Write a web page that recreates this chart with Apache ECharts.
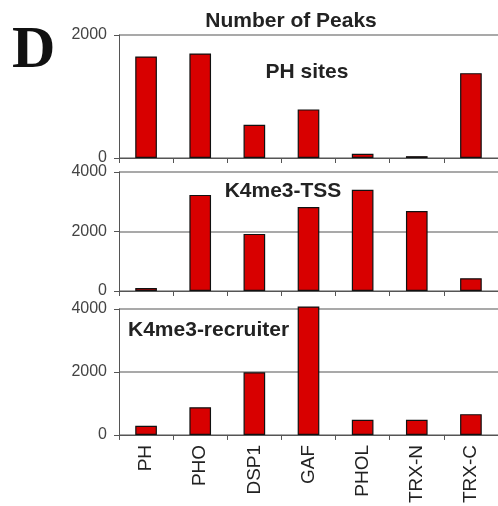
<!DOCTYPE html>
<html>
<head>
<meta charset="utf-8">
<script src="https://cdn.jsdelivr.net/npm/echarts@6/dist/echarts.min.js"></script>
<style>
html,body{margin:0;padding:0;background:#fff;}
#chart{width:498px;height:506px;}
</style>
</head>
<body>
<div id="chart"></div>
<script>
const categories = ['PH', 'PHO', 'DSP1', 'GAF', 'PHOL', 'TRX-N', 'TRX-C'];
const phSites = [1650, 1700, 540, 790, 70, 30, 1380];
const k4me3TSS = [100, 3230, 1920, 2820, 3400, 2690, 430];
const k4me3Recruiter = [290, 880, 1990, 4080, 480, 480, 660];
const panelNames = ['PH sites', 'K4me3-TSS', 'K4me3-recruiter'];
const panelMax = [2000, 4000, 4000];
const yTickInterval = 2000;
const titleText = 'Number of Peaks';
const panelLetter = 'D';

const chart = echarts.init(document.getElementById('chart'), null, {renderer: 'canvas'});
const font = 'Liberation Sans, Arial, sans-serif';
const gridColor = '#8c8c8c';
const grids = [
  {left: 119, top: 35, width: 381, height: 123},
  {left: 119, top: 172, width: 381, height: 119},
  {left: 119, top: 309, width: 381, height: 126}
];
const seriesData = [phSites, k4me3TSS, k4me3Recruiter];

const xAxes = grids.map((g, i) => ({
  type: 'category', gridIndex: i, data: categories,
  axisLine: {show: true, lineStyle: {color: '#555', width: 1}},
  axisTick: {show: true, length: 5, lineStyle: {color: '#555'}},
  axisLabel: i === 2 ? {show: true, rotate: 90, fontSize: 19, margin: 10, color: '#222', fontFamily: font} : {show: false},
  splitLine: {show: false}
}));
const yAxes = grids.map((g, i) => ({
  type: 'value', gridIndex: i, min: 0, max: panelMax[i], interval: yTickInterval,
  axisLine: {show: true, lineStyle: {color: '#555', width: 1}},
  axisTick: {show: true, length: 5, lineStyle: {color: '#555'}},
  axisLabel: {show: true, fontSize: 16, margin: 12, color: '#444', fontFamily: font,
    formatter: v => String(v)},
  splitLine: {show: true, lineStyle: {color: gridColor, width: 1.5}}
}));
const series = seriesData.map((d, i) => ({
  type: 'bar', xAxisIndex: i, yAxisIndex: i, data: d,
  barWidth: '40%', clip: false,
  itemStyle: {color: '#d80000', borderColor: '#111', borderWidth: 1.2},
  silent: true
}));

chart.setOption({
  animation: false,
  grid: grids,
  xAxis: xAxes,
  yAxis: yAxes,
  series: series,
  title: [
    {text: titleText, left: 291, top: 11, textAlign: 'center', padding: 0,
     textStyle: {fontSize: 21, fontWeight: 'bold', color: '#222', fontFamily: font}},
    {text: panelLetter, left: 12, top: 21, padding: 0,
     textStyle: {fontSize: 60, fontWeight: 'bold', color: '#111', fontFamily: 'Liberation Serif, Times New Roman, serif'}},
    {text: panelNames[0], left: 307, top: 62, textAlign: 'center', padding: 0,
     textStyle: {fontSize: 21, fontWeight: 'bold', color: '#222', fontFamily: font}},
    {text: panelNames[1], left: 283, top: 181, textAlign: 'center', padding: 0,
     textStyle: {fontSize: 21, fontWeight: 'bold', color: '#222', fontFamily: font}},
    {text: panelNames[2], left: 128, top: 320, padding: 0,
     textStyle: {fontSize: 21, fontWeight: 'bold', color: '#222', fontFamily: font}}
  ]
});
</script>
</body>
</html>
